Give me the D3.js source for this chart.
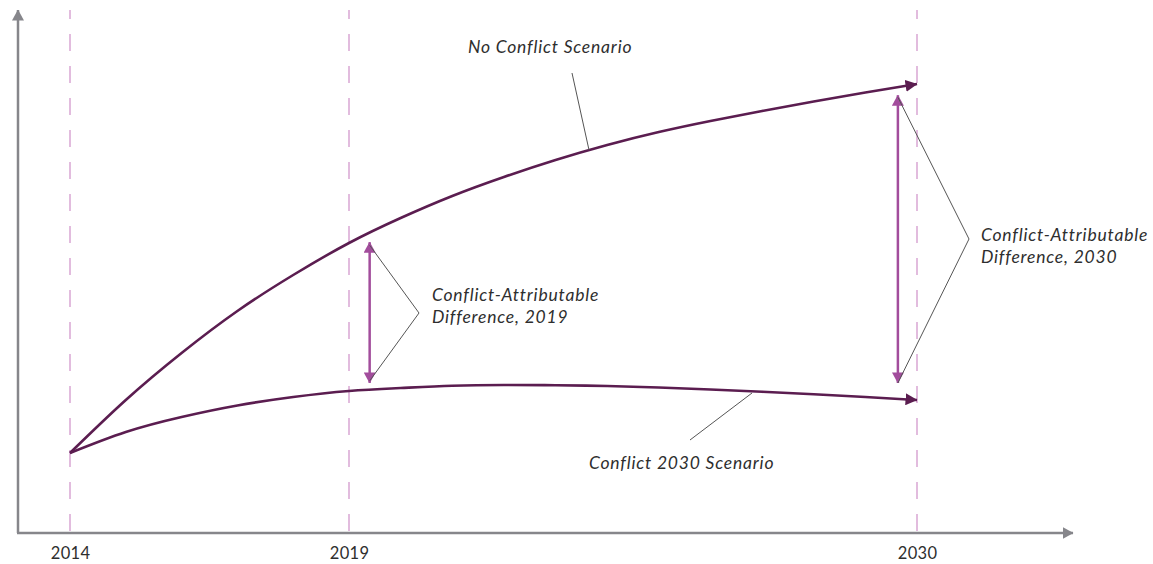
<!DOCTYPE html>
<html><head><meta charset="utf-8">
<script src="https://cdn.jsdelivr.net/npm/d3@7"></script>
<style>
html,body{margin:0;padding:0;background:#fff;}
svg{display:block;}
text{font-family:Lato,"Open Sans",sans-serif;fill:#2e2e2e;}
</style></head>
<body><div id="chart"></div>
<script>
// ---- data ----
const years = [2014,2015,2016,2017,2018,2019,2020,2021,2022,2023,2024,2025,2026,2027,2028,2029,2030];
const noConflict = [15.30,25.43,34.42,42.45,49.33,55.45,60.23,64.44,68.07,71.32,74.19,76.67,78.78,80.69,82.50,84.23,85.85];
const conflict2030 = [15.30,19.31,22.18,24.38,26.00,27.15,27.72,28.15,28.30,28.26,28.11,27.82,27.44,27.00,26.52,26.00,25.43];
const tickYears = [2014,2019,2030];
const diffYears = [2019.4, 2029.63];
const diffTop = [55.6, 83.7];
const diffBottom = [28.7, 28.7];
const diffLabels = [["Conflict-Attributable","Difference, 2019"],["Conflict-Attributable","Difference, 2030"]];
const seriesLabels = ["No Conflict Scenario","Conflict 2030 Scenario"];

// ---- setup ----
const W = 1153, H = 564;
const svg = d3.select("#chart").append("svg").attr("width", W).attr("height", H);
const x = d3.scaleLinear().domain([2014,2019,2030]).range([70,349,917]);
const y = d3.scaleLinear().domain([0,100]).range([533,10]);
const axisX0 = 18, axisY0 = 533, axisXEnd = 1073, axisYEnd = 10;

const defs = svg.append("defs");
function marker(id, color, len, wid){
  defs.append("marker").attr("id", id)
    .attr("markerUnits","userSpaceOnUse")
    .attr("viewBox", `0 0 ${len} ${wid}`)
    .attr("markerWidth", len).attr("markerHeight", wid)
    .attr("refX", len-0.5).attr("refY", wid/2)
    .attr("orient","auto-start-reverse")
    .append("path").attr("d", `M0,0L${len},${wid/2}L0,${wid}Z`).attr("fill", color);
}
const curveColor = "#5b1d50", diffColor = "#a24d9c", axisColor = "#86868b";
marker("arrCurve", curveColor, 12, 12);
marker("arrDiff", diffColor, 11, 12);
marker("arrAxis", axisColor, 11, 12);

// dashed guides
svg.append("g").selectAll("line").data(tickYears).join("line")
  .attr("x1", d=>x(d)).attr("x2", d=>x(d))
  .attr("y1", axisYEnd).attr("y2", axisY0)
  .attr("stroke", "#d9a7d3").attr("stroke-width", 1.5)
  .attr("stroke-dasharray", "17,15").attr("stroke-dashoffset", 8);

// axes lines with arrows
svg.append("line").attr("x1", axisX0).attr("y1", axisY0).attr("x2", axisX0).attr("y2", axisYEnd)
  .attr("stroke", axisColor).attr("stroke-width", 2.5).attr("marker-end","url(#arrAxis)");
svg.append("line").attr("x1", axisX0-1).attr("y1", axisY0).attr("x2", axisXEnd).attr("y2", axisY0)
  .attr("stroke", axisColor).attr("stroke-width", 2.5).attr("marker-end","url(#arrAxis)");

// tick labels via d3 axis
const xAxis = svg.append("g").attr("transform", `translate(0,${axisY0})`)
  .call(d3.axisBottom(x).tickValues(tickYears).tickFormat(d3.format("d")).tickSize(0).tickPadding(14));
xAxis.select(".domain").remove();
xAxis.selectAll("text").attr("font-size", 16.5).attr("font-family", "Lato, sans-serif")
  .attr("fill", "#2e2e2e").attr("letter-spacing", 0.3);

// curves
const line = d3.line().x(d=>x(d[0])).y(d=>y(d[1])).curve(d3.curveNatural);
[noConflict, conflict2030].forEach(vals=>{
  svg.append("path").datum(years.map((yr,i)=>[yr, vals[i]]))
    .attr("d", line).attr("fill","none").attr("stroke", curveColor)
    .attr("stroke-width", 2.6).attr("marker-end","url(#arrCurve)");
});

// difference arrows
diffYears.forEach((yr,i)=>{
  svg.append("line").attr("x1", x(yr)).attr("x2", x(yr))
    .attr("y1", y(diffBottom[i])).attr("y2", y(diffTop[i]))
    .attr("stroke", diffColor).attr("stroke-width", 2.5)
    .attr("marker-start","url(#arrDiff)").attr("marker-end","url(#arrDiff)");
});

const labelStyle = t => t.attr("font-size",17.5).attr("font-style","italic").attr("letter-spacing",0.8);

// brackets + labels
const brackets = [
  {ax: x(diffYears[0]), top: y(diffTop[0])+3, bot: y(diffBottom[0])-2, vx: 419, vy: 313, tx: 432, ty: 301},
  {ax: x(diffYears[1]), top: y(diffTop[1])+2, bot: y(diffBottom[1]), vx: 969, vy: 239, tx: 981, ty: 241}
];
brackets.forEach((b,i)=>{
  svg.append("polyline").attr("points", `${b.ax},${b.top} ${b.vx},${b.vy} ${b.ax},${b.bot}`)
    .attr("fill","none").attr("stroke","#555").attr("stroke-width",1);
  const t = svg.append("text").attr("x", b.tx).attr("y", b.ty).call(labelStyle);
  diffLabels[i].forEach((s,j)=>t.append("tspan").attr("x", b.tx).attr("dy", j?22:0).text(s));
});

// series labels + leader lines
svg.append("line").attr("x1",572).attr("y1",73).attr("x2",589).attr("y2",150).attr("stroke","#555").attr("stroke-width",1);
svg.append("text").attr("x",468).attr("y",53).call(labelStyle).text(seriesLabels[0]);
svg.append("line").attr("x1",690).attr("y1",440).attr("x2",752).attr("y2",393).attr("stroke","#555").attr("stroke-width",1);
svg.append("text").attr("x",589).attr("y",469).call(labelStyle).text(seriesLabels[1]);
</script></body></html>
